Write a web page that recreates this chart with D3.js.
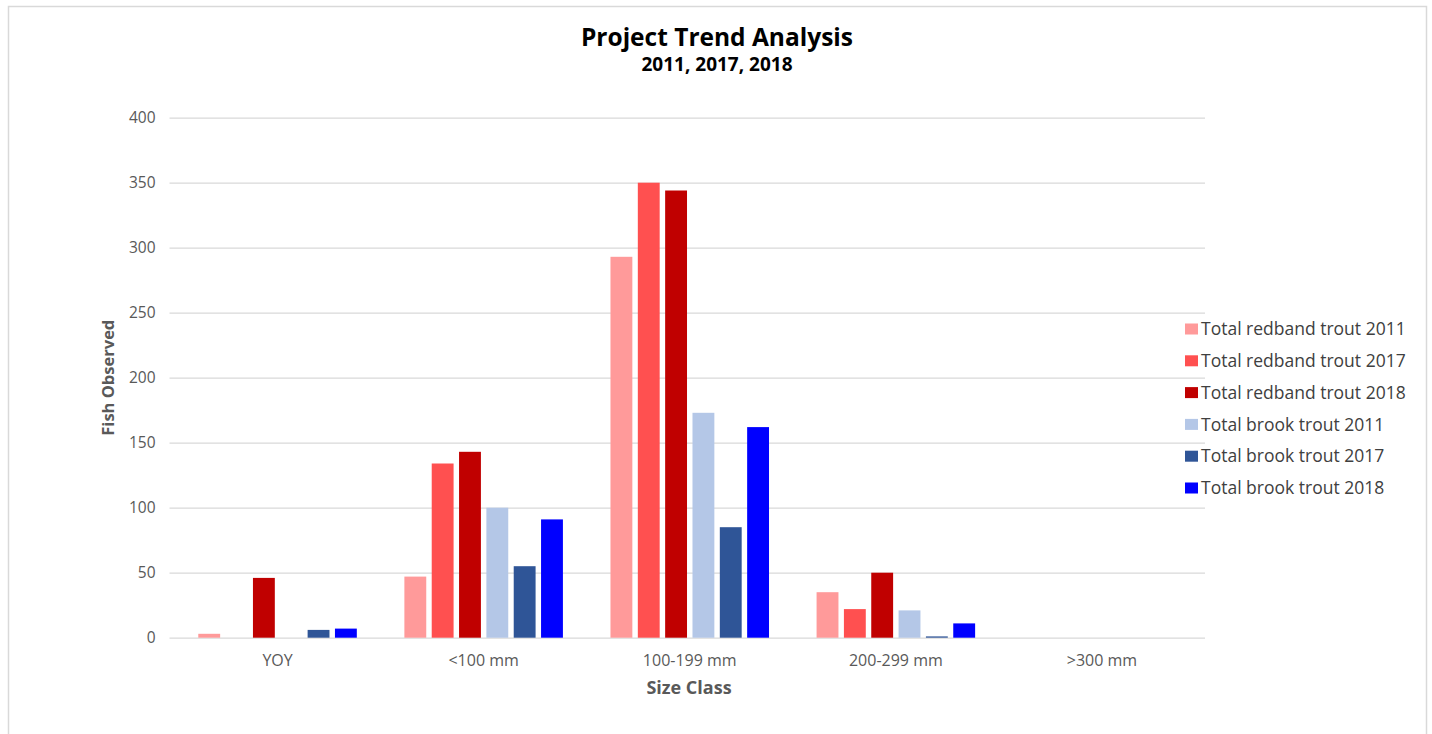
<!DOCTYPE html>
<html>
<head>
<meta charset="utf-8">
<script src="https://cdn.jsdelivr.net/npm/d3@7/dist/d3.min.js"></script>
<style>
  html, body { margin: 0; padding: 0; background: #ffffff; }
  svg { display: block; }
  text { font-family: "Open Sans", "DejaVu Sans", sans-serif; }
</style>
</head>
<body>
<svg id="chart" width="1432" height="734"></svg>
<script>
// Size classes along the x axis
const categories = ["YOY", "<100 mm", "100-199 mm", "200-299 mm", ">300 mm"];

// Fish counts per size class
const redband2011 = [3, 47, 293, 35, 0];
const redband2017 = [0, 134, 350, 22, 0];
const redband2018 = [46, 143, 344, 50, 0];
const brook2011   = [0, 100, 173, 21, 0];
const brook2017   = [6, 55, 85, 1, 0];
const brook2018   = [7, 91, 162, 11, 0];

const seriesNames = [
  "Total redband trout 2011",
  "Total redband trout 2017",
  "Total redband trout 2018",
  "Total brook trout 2011",
  "Total brook trout 2017",
  "Total brook trout 2018"
];
const seriesColors = ["#ff9a9a", "#ff5050", "#c00000", "#b4c7e7", "#2f5597", "#0000ff"];
const seriesValues = [redband2011, redband2017, redband2018, brook2011, brook2017, brook2018];

const yTicks = [0, 50, 100, 150, 200, 250, 300, 350, 400];

const svg = d3.select("#chart");

// Outer chart frame
svg.append("rect")
  .attr("x", 8.5).attr("y", 6.5)
  .attr("width", 1418).attr("height", 740)
  .attr("fill", "#ffffff")
  .attr("stroke", "#d9d9d9").attr("stroke-width", 1.5);

const plot = { left: 174.5, right: 1205, top: 117.7, bottom: 637.7 };

const y = d3.scaleLinear().domain([0, 400]).range([plot.bottom, plot.top]);

const x0 = d3.scaleBand().domain(categories).range([plot.left, plot.right]).padding(0);
const x1 = d3.scaleBand().domain(seriesNames).range([0, x0.bandwidth()])
  .paddingInner(0.2).paddingOuter(0.87);

// Value axis with gridlines
const yAxis = d3.axisLeft(y).tickValues(yTicks).tickSize(-(plot.right - 169.5)).tickPadding(14);
const gy = svg.append("g")
  .attr("transform", `translate(169.5,0)`)
  .call(yAxis);
gy.select(".domain").remove();
gy.selectAll(".tick line").attr("stroke", "#d9d9d9").attr("stroke-width", 1.2);
gy.selectAll(".tick text")
  .attr("fill", "#595959")
  .style("font-size", "15.5px");

// Category axis
const xAxis = d3.axisBottom(x0).tickSize(0).tickPadding(17);
const gx = svg.append("g")
  .attr("transform", `translate(0,${plot.bottom})`)
  .call(xAxis);
gx.select(".domain").remove();
gx.selectAll(".tick text").attr("fill", "#595959").style("font-size", "16px");

// Bars
const groups = svg.append("g").selectAll("g")
  .data(categories)
  .join("g")
  .attr("transform", d => `translate(${x0(d)},0)`);

groups.selectAll("rect")
  .data((c, ci) => seriesNames.map((s, si) => ({ s, v: seriesValues[si][ci], color: seriesColors[si] })))
  .join("rect")
  .attr("x", d => x1(d.s))
  .attr("width", x1.bandwidth())
  .attr("y", d => y(d.v))
  .attr("height", d => y(0) - y(d.v))
  .attr("fill", d => d.color);

// Titles
svg.append("text")
  .attr("x", 717).attr("y", 46)
  .attr("text-anchor", "middle")
  .attr("fill", "#000000")
  .style("font-size", "24.5px").style("font-weight", "bold")
  .text("Project Trend Analysis");

svg.append("text")
  .attr("x", 717).attr("y", 71)
  .attr("text-anchor", "middle")
  .attr("fill", "#000000")
  .style("font-size", "19px").style("font-weight", "bold")
  .text("2011, 2017, 2018");

// Axis titles
svg.append("text")
  .attr("x", 689).attr("y", 694)
  .attr("text-anchor", "middle")
  .attr("fill", "#595959")
  .style("font-size", "18px").style("font-weight", "bold")
  .text("Size Class");

svg.append("text")
  .attr("transform", `translate(114,${(plot.top + plot.bottom) / 2}) rotate(-90)`)
  .attr("text-anchor", "middle")
  .attr("fill", "#595959")
  .style("font-size", "16.5px").style("font-weight", "bold")
  .text("Fish Observed");

// Legend
const legend = svg.append("g").attr("transform", "translate(1185,329)");
const items = legend.selectAll("g")
  .data(seriesNames)
  .join("g")
  .attr("transform", (d, i) => `translate(0,${i * 31.8})`);
items.append("rect")
  .attr("x", 0).attr("y", -5.5)
  .attr("width", 13).attr("height", 11)
  .attr("fill", (d, i) => seriesColors[i]);
items.append("text")
  .attr("x", 16).attr("y", 0)
  .attr("dy", "0.35em")
  .attr("fill", "#404040")
  .style("font-size", "17.5px")
  .text(d => d);
</script>
</body>
</html>
